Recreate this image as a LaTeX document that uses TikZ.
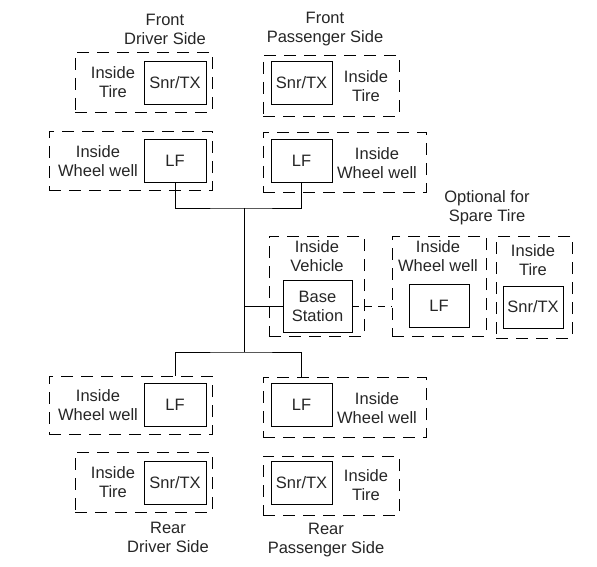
\documentclass[tikz,border=0pt]{standalone}
\usepackage{fontspec}
\setmainfont{Liberation Sans}
\usepackage{tikz}
\usetikzlibrary{positioning,calc}

\begin{document}
\begin{tikzpicture}[
    x=1pt, y=-1pt,
    every node/.style={font=\fontsize{16.5}{19}\selectfont, text=black!85},
    unit/.style={
        rectangle,
        draw=black,
        line width=0.8pt,
        minimum width=62pt,
        minimum height=43pt,
        inner sep=0pt,
        align=center
    },
    zone/.style={
        rectangle,
        draw=black,
        line width=0.9pt,
        dash pattern=on 12pt off 8pt,
        inner sep=0pt
    },
    caption/.style={
        inner sep=0pt,
        align=center
    },
    wire/.style={
        line width=0.8pt
    }
]
\useasboundingbox (0,0) rectangle (597,567);

% Front driver side
\node[zone, minimum width=137pt, minimum height=60pt] (fdtz) at (143.5,82) {};
\node[unit] (fdsnr) at (175,82.5) {Snr/TX};
\node[caption] (fdtl) at (113,82.5) {Inside\\Tire};
\node[zone, minimum width=163pt, minimum height=59pt] (fdwz) at (130.5,160.5) {};
\node[unit] (fdlf) at (175,160.5) {LF};
\node[caption] (fdwl) at (98,161.5) {Inside\\Wheel well};
\node[caption] (fdcap) at (165,29) {Front\\Driver Side};

% Front passenger side
\node[zone, minimum width=136pt, minimum height=61pt] (fptz) at (331,85.5) {};
\node[unit, minimum width=61pt] (fpsnr) at (301.5,82.5) {Snr/TX};
\node[caption] (fptl) at (366,86) {Inside\\Tire};
\node[zone, minimum width=163pt, minimum height=60pt] (fpwz) at (344.5,162) {};
\node[unit, minimum width=61pt] (fplf) at (301.5,160.5) {LF};
\node[caption] (fpwl) at (377,163) {Inside\\Wheel well};
\node[caption] (fpcap) at (325,29) {Front\\Passenger Side};

% Base station
\node[zone, minimum width=95pt, minimum height=100pt] (vehz) at (316.5,286) {};
\node[unit, minimum width=69pt, minimum height=52pt] (base) at (317.5,306) {Base\\Station};
\node[caption] (vehl) at (317,256.5) {Inside\\Vehicle};

% Spare tire
\node[caption] (sparecap) at (487,208) {Optional for\\Spare Tire};
\node[zone, minimum width=94pt, minimum height=100pt] (swz) at (439,286) {};
\node[unit, minimum width=60pt] (slf) at (439,305.5) {LF};
\node[caption] (swl) at (438,256.5) {Inside\\Wheel well};
\node[zone, minimum width=76pt, minimum height=102pt] (stz) at (534,287) {};
\node[unit, minimum width=60pt, minimum height=42pt] (ssnr) at (533,307) {Snr/TX};
\node[caption] (stl) at (533,260.5) {Inside\\Tire};

% Rear driver side
\node[zone, minimum width=163pt, minimum height=58pt] (rdwz) at (130.5,405) {};
\node[unit] (rdlf) at (175,404.5) {LF};
\node[caption] (rdwl) at (98,405) {Inside\\Wheel well};
\node[zone, minimum width=137pt, minimum height=60pt] (rdtz) at (143.5,482) {};
\node[unit] (rdsnr) at (175,482.5) {Snr/TX};
\node[caption] (rdtl) at (113,482.5) {Inside\\Tire};
\node[caption] (rdcap) at (168,537) {Rear\\Driver Side};

% Rear passenger side
\node[zone, minimum width=163pt, minimum height=60pt] (rpwz) at (344.5,407) {};
\node[unit, minimum width=61pt] (rplf) at (301.5,404.5) {LF};
\node[caption] (rpwl) at (377,408) {Inside\\Wheel well};
\node[zone, minimum width=136pt, minimum height=59pt] (rptz) at (331,485.5) {};
\node[unit, minimum width=61pt] (rpsnr) at (301.5,482.5) {Snr/TX};
\node[caption] (rptl) at (366,485) {Inside\\Tire};
\node[caption] (rpcap) at (326,540) {Rear\\Passenger Side};

% Wiring
\coordinate (topj) at (244,208);
\coordinate (botj) at (244,352);
\draw[wire] (fdlf.south) |- (topj) -| (fplf.south);
\draw[wire] (topj) -- (botj);
\draw[wire] (topj |- base.west) -- (base.west);
\draw[wire] (rdlf.north |- rdwz.north) |- (botj) -| (rplf.north |- rpwz.north);
\draw[wire, dash pattern=on 7pt off 6pt] (base.east) -- (base.east -| swz.west);

\end{tikzpicture}
\end{document}
